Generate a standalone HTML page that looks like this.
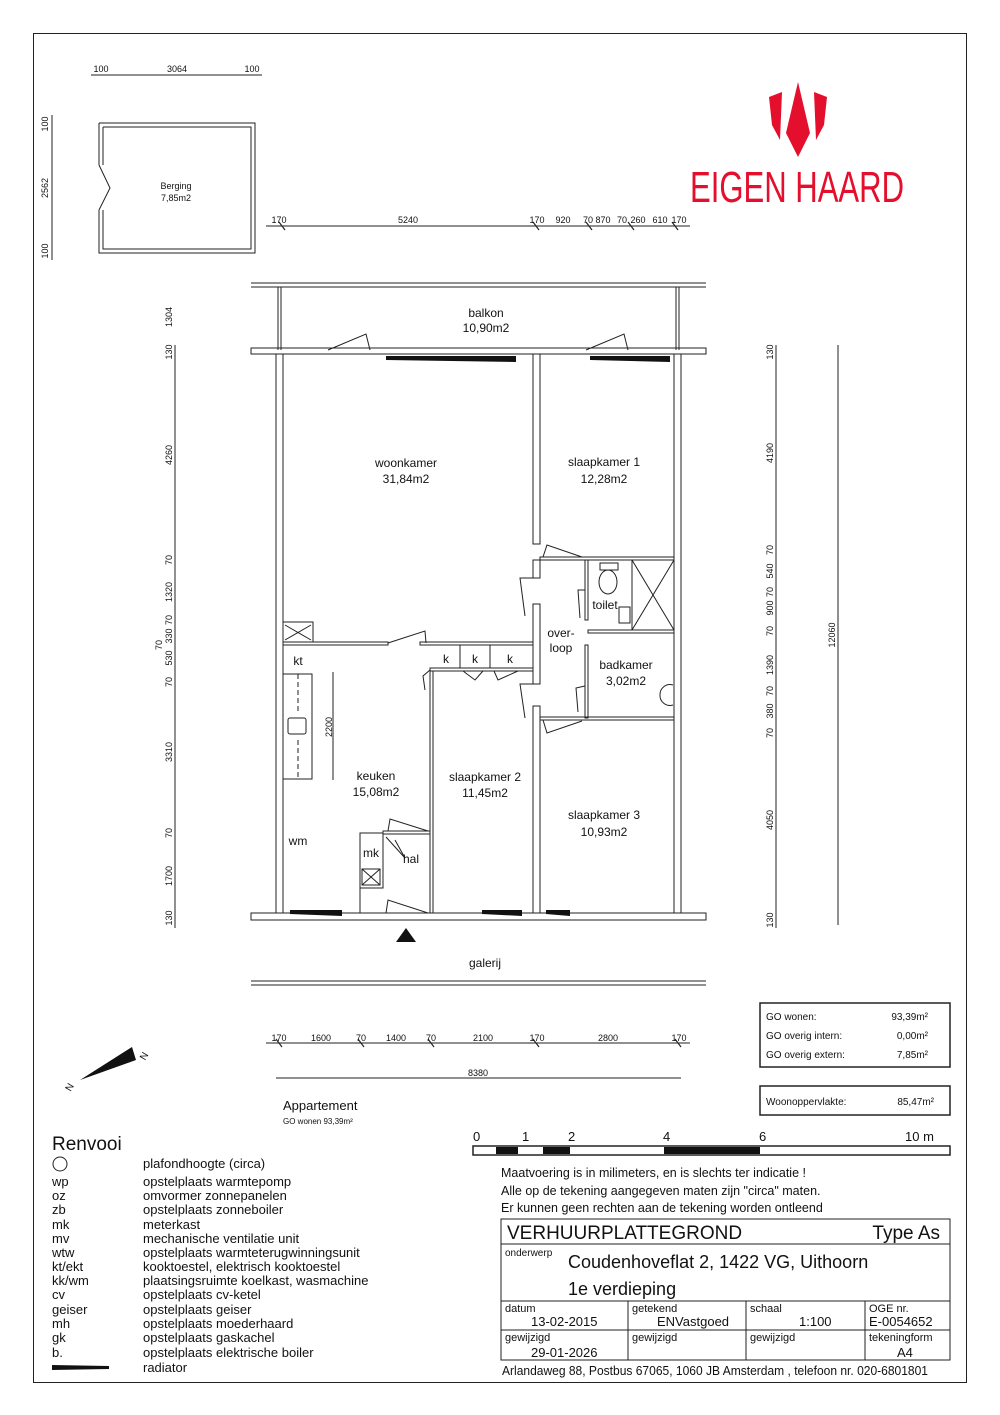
<!DOCTYPE html>
<html><head><meta charset="utf-8"><style>
html,body{margin:0;padding:0;background:#fff}
svg{display:block}
text{font-family:"Liberation Sans",sans-serif;fill:#111}
</style></head><body>
<svg width="1000" height="1415" viewBox="0 0 1000 1415" xmlns="http://www.w3.org/2000/svg">
<rect x="33.5" y="33.5" width="933" height="1349" fill="none" stroke="#222" stroke-width="1"/>

<!-- logo -->
<g fill="#e30f2d">
<polygon points="798,82 786,133 798,157 810,133"/>
<polygon points="769,97 782,92 780,140 772,125"/>
<polygon points="827,97 814,92 816,140 824,125"/>
</g>
<text x="797" y="202" font-size="44" text-anchor="middle" fill="#e30f2d" style="fill:#e30f2d;font-family:'Liberation Sans Narrow','Liberation Sans',sans-serif" textLength="214" lengthAdjust="spacingAndGlyphs">EIGEN HAARD</text>

<g stroke="#222" fill="none" stroke-width="1">
<!-- berging -->
<path d="M99 123 H255 V253 H99 V210 M99 165 V123"/>
<path d="M103 127 H251 V249 H103 V210 M103 165 V127"/>
<path d="M99 165 L110 188 L99 210"/>
<line x1="91" y1="75" x2="262" y2="75"/>
<line x1="52" y1="115" x2="52" y2="260"/>
<!-- top dim -->
<line x1="266" y1="226" x2="690" y2="226"/>
<!-- balkon -->
<line x1="251" y1="283" x2="706" y2="283"/>
<line x1="251" y1="287" x2="706" y2="287"/>
<line x1="278" y1="287" x2="278" y2="350"/><line x1="281" y1="287" x2="281" y2="350"/>
<line x1="676" y1="287" x2="676" y2="350"/><line x1="679" y1="287" x2="679" y2="350"/>
<!-- facades -->
<rect x="251" y="348" width="455" height="6"/>
<rect x="251" y="913" width="455" height="7"/>
<line x1="251" y1="981" x2="706" y2="981"/><line x1="251" y1="985" x2="706" y2="985"/>
<!-- outer walls -->
<rect x="276" y="354" width="7" height="559"/>
<rect x="674" y="354" width="7" height="559"/>
<!-- interior -->
<rect x="533" y="354" width="7" height="190"/>
<rect x="533" y="560" width="7" height="18"/>
<rect x="533" y="604" width="7" height="80"/>
<rect x="533" y="706" width="7" height="207"/>
<rect x="283" y="642" width="105" height="3"/>
<rect x="420" y="642" width="113" height="3"/>
<rect x="430" y="668" width="103" height="3"/>
<rect x="430" y="671" width="3" height="242"/>
<rect x="540" y="557" width="134" height="3"/>
<rect x="585" y="560" width="3" height="60"/>
<rect x="585" y="645" width="3" height="73"/>
<rect x="588" y="630" width="86" height="3"/>
<rect x="540" y="717" width="134" height="3"/>
<rect x="632" y="560" width="42" height="70"/>
<line x1="632" y1="560" x2="674" y2="630"/><line x1="674" y1="560" x2="632" y2="630"/>
<line x1="460" y1="645" x2="460" y2="668"/><line x1="490" y1="645" x2="490" y2="668"/>
<!-- kitchen -->
<rect x="283" y="622" width="30" height="20"/>
<line x1="285" y1="625" x2="311" y2="640"/><line x1="311" y1="625" x2="285" y2="640"/>
<rect x="283" y="674" width="29" height="105"/>
<line x1="298" y1="674" x2="298" y2="712" stroke-dasharray="5,3"/>
<line x1="298" y1="740" x2="298" y2="779" stroke-dasharray="5,3"/>
<rect x="288" y="718" width="18" height="16" rx="2"/>
<line x1="333" y1="672" x2="333" y2="780"/>
<!-- mk -->
<rect x="360" y="833" width="23" height="55"/>
<rect x="362" y="869" width="18" height="16"/>
<line x1="362" y1="869" x2="380" y2="885"/><line x1="380" y1="869" x2="362" y2="885"/>
<line x1="360" y1="888" x2="360" y2="913"/>
<rect x="383" y="831" width="47" height="3"/>
<!-- doors -->
<path d="M388 643 L425 631 L426 643"/>
<path d="M328 350 L366 334 L370 350"/>
<path d="M586 350 L624 334 L628 350"/>
<path d="M543 557 L547 545 L582 557"/>
<path d="M533 578 L520 578 L525 616"/>
<path d="M533 684 L520 684 L525 718"/>
<path d="M543 720 L547 733 L582 721"/>
<path d="M585 590 L578 590 L580 618"/>
<path d="M585 686 L576 688 L578 712"/>
<path d="M388 831 L390 819 L428 831"/>
<path d="M386 837 L405 858 L395 840"/>
<path d="M386 913 L388 900 L428 913"/>
<path d="M430 670 L423 676 L425 690"/>
<path d="M463 671 L475 680 L483 671"/>
<path d="M494 671 L498 680 L518 671"/>
<ellipse cx="608" cy="582" rx="9" ry="12"/>
<rect x="600" y="563" width="18" height="7"/>
<path d="M673 685 A10 10 0 0 0 660 695 A10 10 0 0 0 673 705"/>
<rect x="619" y="607" width="11" height="16"/>
<!-- dims -->
<line x1="776" y1="345" x2="776" y2="928"/>
<line x1="838" y1="345" x2="838" y2="925"/>
<line x1="175" y1="345" x2="175" y2="928"/>
<line x1="266" y1="1043" x2="690" y2="1043"/>
<line x1="276" y1="1078" x2="681" y2="1078"/>
<g stroke-width="1.2">
<line x1="279" y1="222" x2="285" y2="230"/><line x1="533" y1="222" x2="539" y2="230"/><line x1="586" y1="222" x2="592" y2="230"/><line x1="628" y1="222" x2="634" y2="230"/><line x1="672" y1="222" x2="678" y2="230"/>
<line x1="276" y1="1039" x2="282" y2="1047"/><line x1="358" y1="1039" x2="364" y2="1047"/><line x1="428" y1="1039" x2="434" y2="1047"/><line x1="533" y1="1039" x2="539" y2="1047"/><line x1="675" y1="1039" x2="681" y2="1047"/>
</g>
<!-- area boxes -->
<rect x="760" y="1003" width="190" height="64" stroke-width="1.5"/>
<rect x="760" y="1086" width="190" height="29" stroke-width="1.5"/>
<!-- title block -->
<rect x="501" y="1219" width="449" height="141"/>
<line x1="501" y1="1244" x2="950" y2="1244"/>
<line x1="501" y1="1301" x2="950" y2="1301"/>
<line x1="501" y1="1330" x2="950" y2="1330"/>
<line x1="628" y1="1301" x2="628" y2="1360"/>
<line x1="746" y1="1301" x2="746" y2="1360"/>
<line x1="865" y1="1301" x2="865" y2="1360"/>
<!-- scale bar -->
<rect x="473" y="1146" width="477" height="9" stroke-width="1.5"/>
<circle cx="60" cy="1164" r="7"/>
<line x1="52" y1="1367" x2="109" y2="1367"/>
</g>
<!-- radiators -->
<g fill="#111">
<polygon points="386,356 516,356 516,362 386,360"/>
<polygon points="590,356 670,356 670,362 590,360"/>
<polygon points="290,910 342,910 342,916 290,914"/>
<polygon points="482,910 522,910 522,916 482,914"/>
<polygon points="546,910 570,910 570,916 546,914"/>
<polygon points="396,942 406,928 416,942"/>
<rect x="496" y="1147" width="22" height="7"/>
<rect x="543" y="1147" width="27" height="7"/>
<rect x="664" y="1147" width="96" height="7"/>
<polygon points="52,1365 109,1366 109,1369 52,1370"/>
<polygon points="80,1080 132,1047 136,1060"/>
</g>
<g font-size="12" text-anchor="middle">
<text x="486" y="317">balkon</text><text x="486" y="332">10,90m2</text>
<text x="406" y="467">woonkamer</text><text x="406" y="483">31,84m2</text>
<text x="604" y="466">slaapkamer 1</text><text x="604" y="483">12,28m2</text>
<text x="605" y="609">toilet</text>
<text x="561" y="637">over-</text><text x="561" y="652">loop</text>
<text x="626" y="669">badkamer</text><text x="626" y="685">3,02m2</text>
<text x="298" y="665">kt</text>
<text x="446" y="663">k</text><text x="475" y="663">k</text><text x="510" y="663">k</text>
<text x="376" y="780">keuken</text><text x="376" y="796">15,08m2</text>
<text x="485" y="781">slaapkamer 2</text><text x="485" y="797">11,45m2</text>
<text x="604" y="819">slaapkamer 3</text><text x="604" y="836">10,93m2</text>
<text x="298" y="845">wm</text><text x="371" y="857">mk</text><text x="411" y="863">hal</text>
<text x="485" y="967">galerij</text>
</g>
<g font-size="9" text-anchor="middle">
<text x="176" y="189">Berging</text><text x="176" y="201">7,85m2</text>
<text x="101" y="72">100</text><text x="177" y="72">3064</text><text x="252" y="72">100</text>
<text x="279" y="223">170</text><text x="408" y="223">5240</text><text x="537" y="223">170</text><text x="563" y="223">920</text><text x="588" y="223">70</text><text x="603" y="223">870</text><text x="622" y="223">70</text><text x="638" y="223">260</text><text x="660" y="223">610</text><text x="679" y="223">170</text>
<text x="279" y="1041">170</text><text x="321" y="1041">1600</text><text x="361" y="1041">70</text><text x="396" y="1041">1400</text><text x="431" y="1041">70</text><text x="483" y="1041">2100</text><text x="537" y="1041">170</text><text x="608" y="1041">2800</text><text x="679" y="1041">170</text>
<text x="478" y="1076">8380</text>
</g>
<g font-size="9" text-anchor="middle">
<text transform="translate(48,124) rotate(-90)">100</text>
<text transform="translate(48,188) rotate(-90)">2562</text>
<text transform="translate(48,251) rotate(-90)">100</text>
<text transform="translate(172,317) rotate(-90)">1304</text>
<text transform="translate(172,352) rotate(-90)">130</text>
<text transform="translate(172,455) rotate(-90)">4260</text>
<text transform="translate(172,560) rotate(-90)">70</text>
<text transform="translate(172,592) rotate(-90)">1320</text>
<text transform="translate(172,620) rotate(-90)">70</text>
<text transform="translate(172,636) rotate(-90)">330</text>
<text transform="translate(162,645) rotate(-90)">70</text>
<text transform="translate(172,658) rotate(-90)">530</text>
<text transform="translate(172,682) rotate(-90)">70</text>
<text transform="translate(172,752) rotate(-90)">3310</text>
<text transform="translate(172,833) rotate(-90)">70</text>
<text transform="translate(172,876) rotate(-90)">1700</text>
<text transform="translate(172,918) rotate(-90)">130</text>
<text transform="translate(332,727) rotate(-90)">2200</text>
<text transform="translate(773,352) rotate(-90)">130</text>
<text transform="translate(773,453) rotate(-90)">4190</text>
<text transform="translate(773,550) rotate(-90)">70</text>
<text transform="translate(773,571) rotate(-90)">540</text>
<text transform="translate(773,592) rotate(-90)">70</text>
<text transform="translate(773,608) rotate(-90)">900</text>
<text transform="translate(773,631) rotate(-90)">70</text>
<text transform="translate(773,665) rotate(-90)">1390</text>
<text transform="translate(773,691) rotate(-90)">70</text>
<text transform="translate(773,711) rotate(-90)">380</text>
<text transform="translate(773,733) rotate(-90)">70</text>
<text transform="translate(773,820) rotate(-90)">4050</text>
<text transform="translate(773,920) rotate(-90)">130</text>
<text transform="translate(835,635) rotate(-90)">12060</text>
</g>
<g font-size="10">
<text x="766" y="1020">GO wonen:</text><text x="928" y="1020" text-anchor="end">93,39m²</text>
<text x="766" y="1039">GO overig intern:</text><text x="928" y="1039" text-anchor="end">0,00m²</text>
<text x="766" y="1058">GO overig extern:</text><text x="928" y="1058" text-anchor="end">7,85m²</text>
<text x="766" y="1105">Woonoppervlakte:</text><text x="934" y="1105" text-anchor="end">85,47m²</text>
</g>
<text x="283" y="1110" font-size="13">Appartement</text>
<text x="283" y="1124" font-size="8">GO wonen 93,39m²</text>
<text x="140" y="1058" font-size="10" transform="rotate(-60 145 1055)">N</text>
<text x="66" y="1090" font-size="10" transform="rotate(-60 70 1087)">N</text>
<text x="52" y="1150" font-size="19">Renvooi</text>
<g font-size="13">
<text x="143" y="1168">plafondhoogte (circa)</text>
<text x="52" y="1186">wp</text><text x="143" y="1186">opstelplaats warmtepomp</text>
<text x="52" y="1200">oz</text><text x="143" y="1200">omvormer zonnepanelen</text>
<text x="52" y="1214">zb</text><text x="143" y="1214">opstelplaats zonneboiler</text>
<text x="52" y="1229">mk</text><text x="143" y="1229">meterkast</text>
<text x="52" y="1243">mv</text><text x="143" y="1243">mechanische ventilatie unit</text>
<text x="52" y="1257">wtw</text><text x="143" y="1257">opstelplaats warmteterugwinningsunit</text>
<text x="52" y="1271">kt/ekt</text><text x="143" y="1271">kooktoestel, elektrisch kooktoestel</text>
<text x="52" y="1285">kk/wm</text><text x="143" y="1285">plaatsingsruimte koelkast, wasmachine</text>
<text x="52" y="1299">cv</text><text x="143" y="1299">opstelplaats cv-ketel</text>
<text x="52" y="1314">geiser</text><text x="143" y="1314">opstelplaats geiser</text>
<text x="52" y="1328">mh</text><text x="143" y="1328">opstelplaats moederhaard</text>
<text x="52" y="1342">gk</text><text x="143" y="1342">opstelplaats gaskachel</text>
<text x="52" y="1357">b.</text><text x="143" y="1357">opstelplaats elektrische boiler</text>
<text x="143" y="1372">radiator</text>
</g>
<g font-size="13">
<text x="473" y="1141">0</text><text x="522" y="1141">1</text><text x="568" y="1141">2</text><text x="663" y="1141">4</text><text x="759" y="1141">6</text><text x="905" y="1141">10  m</text>
</g>
<g font-size="12.5">
<text x="501" y="1177">Maatvoering is in milimeters, en is slechts ter indicatie !</text>
<text x="501" y="1195">Alle op de tekening aangegeven maten zijn "circa" maten.</text>
<text x="501" y="1212">Er kunnen geen rechten aan de tekening worden ontleend</text>
</g>
<text x="507" y="1239" font-size="19">VERHUURPLATTEGROND</text>
<text x="940" y="1239" font-size="19" text-anchor="end">Type As</text>
<text x="505" y="1256" font-size="10">onderwerp</text>
<text x="568" y="1268" font-size="18">Coudenhoveflat 2, 1422 VG, Uithoorn</text>
<text x="568" y="1295" font-size="18">1e verdieping</text>
<g font-size="11">
<text x="505" y="1312">datum</text><text x="632" y="1312">getekend</text><text x="750" y="1312">schaal</text><text x="869" y="1312">OGE nr.</text>
<text x="505" y="1341">gewijzigd</text><text x="632" y="1341">gewijzigd</text><text x="750" y="1341">gewijzigd</text><text x="869" y="1341">tekeningform</text>
</g>
<g font-size="13">
<text x="531" y="1326">13-02-2015</text><text x="657" y="1326">ENVastgoed</text><text x="799" y="1326">1:100</text><text x="869" y="1326">E-0054652</text>
<text x="531" y="1357">29-01-2026</text><text x="897" y="1357">A4</text>
</g>
<text x="502" y="1375" font-size="12.5" textLength="426" lengthAdjust="spacingAndGlyphs">Arlandaweg 88, Postbus 67065, 1060 JB Amsterdam , telefoon nr. 020-6801801</text>
</svg>
</body></html>
